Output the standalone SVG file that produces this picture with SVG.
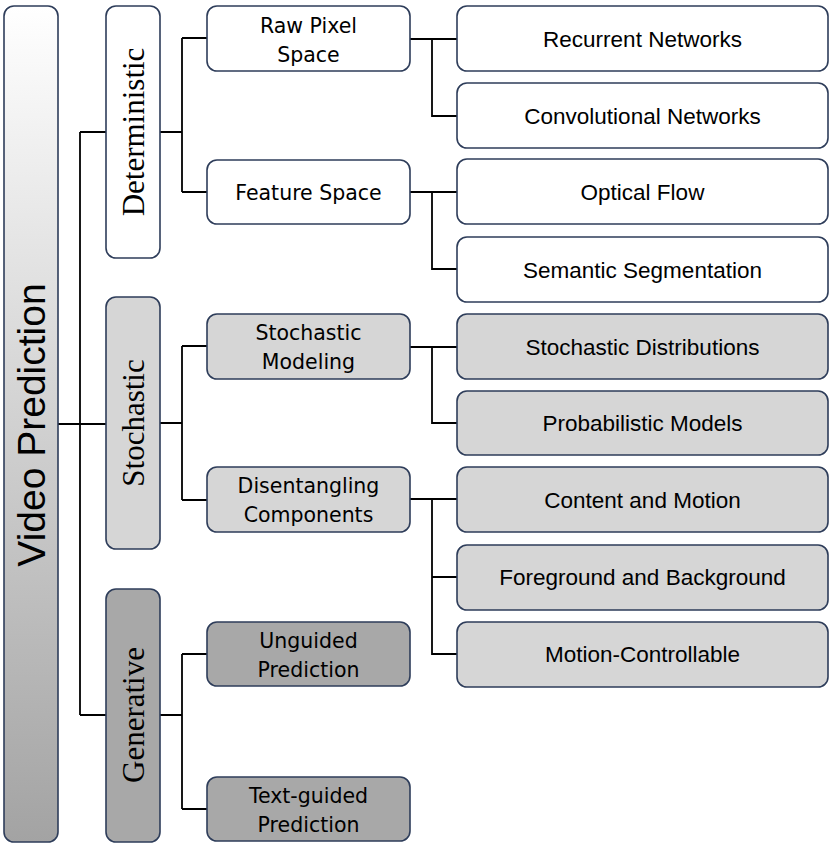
<svg xmlns="http://www.w3.org/2000/svg" width="830" height="848" viewBox="0 0 830 848">
<defs>
<linearGradient id="rootGrad" x1="0" y1="0" x2="0" y2="1">
<stop offset="0" stop-color="#ffffff"/>
<stop offset="1" stop-color="#a3a3a3"/>
</linearGradient>
<style>
.box{stroke:#2e3d5a;stroke-width:1.6}
.w{fill:#ffffff}
.g1{fill:#d6d6d6}
.g2{fill:#a8a8a8}
.root{font-family:"Liberation Sans",Arial,sans-serif;font-size:39px;fill:#000}
.l1{font-family:"Liberation Serif","Times New Roman",serif;font-size:31px;fill:#000}
.l2{font-family:"DejaVu Sans","Noto Sans",sans-serif;font-size:20.5px;fill:#000}
.l3{font-family:"Liberation Sans",Arial,sans-serif;font-size:22.5px;fill:#000}
.conn{fill:none;stroke:#000;stroke-width:1.8}
</style>
</defs>
<rect width="830" height="848" fill="#ffffff"/>
<g id="connectors">
<path class="conn" d="M58,424 H80 M80,132 V715 M80,132 H106 M80,424 H106 M80,715 H106"/>
<path class="conn" d="M160,132 H182 M182,38 V192 M182,38 H207 M182,192 H207"/>
<path class="conn" d="M160,423 H182 M182,346 V500 M182,346 H207 M182,500 H207"/>
<path class="conn" d="M160,715 H182 M182,654 V809 M182,654 H207 M182,809 H207"/>
<path class="conn" d="M410,39 H457 M432,39 V116 H457"/>
<path class="conn" d="M410,192 H457 M432,192 V269 H457"/>
<path class="conn" d="M410,347 H457 M432,347 V423 H457"/>
<path class="conn" d="M410,499 H457 M432,499 V654 H457 M432,577 H457"/>
</g>
<g id="video-prediction">
<rect class="box" x="4" y="6" width="54" height="836" rx="10" fill="url(#rootGrad)"/>
<text class="root" transform="translate(45,425) rotate(-90)" text-anchor="middle">Video Prediction</text>
</g>
<g id="deterministic">
<rect class="box w" x="106" y="6" width="54" height="252" rx="10"/>
<text class="l1" transform="translate(144,132) rotate(-90)" text-anchor="middle">Deterministic</text>
</g>
<g id="stochastic">
<rect class="box g1" x="106" y="297" width="54" height="252" rx="10"/>
<text class="l1" transform="translate(144,423) rotate(-90)" text-anchor="middle">Stochastic</text>
</g>
<g id="generative">
<rect class="box g2" x="106" y="589" width="54" height="253" rx="10"/>
<text class="l1" transform="translate(144,715) rotate(-90)" text-anchor="middle">Generative</text>
</g>
<g id="raw-pixel-space">
<rect class="box w" x="207" y="6" width="203" height="65" rx="10"/>
<text class="l2" x="308.5" y="33" text-anchor="middle">Raw Pixel</text>
<text class="l2" x="308.5" y="62" text-anchor="middle">Space</text>
</g>
<g id="feature-space">
<rect class="box w" x="207" y="160" width="203" height="64" rx="10"/>
<text class="l2" x="308.5" y="200" text-anchor="middle">Feature Space</text>
</g>
<g id="stochastic-modeling">
<rect class="box g1" x="207" y="314" width="203" height="65" rx="10"/>
<text class="l2" x="308.5" y="340" text-anchor="middle">Stochastic</text>
<text class="l2" x="308.5" y="369" text-anchor="middle">Modeling</text>
</g>
<g id="disentangling-components">
<rect class="box g1" x="207" y="467" width="203" height="65" rx="10"/>
<text class="l2" x="308.5" y="493" text-anchor="middle">Disentangling</text>
<text class="l2" x="308.5" y="522" text-anchor="middle">Components</text>
</g>
<g id="unguided-prediction">
<rect class="box g2" x="207" y="622" width="203" height="64" rx="10"/>
<text class="l2" x="308.5" y="648" text-anchor="middle">Unguided</text>
<text class="l2" x="308.5" y="677" text-anchor="middle">Prediction</text>
</g>
<g id="text-guided-prediction">
<rect class="box g2" x="207" y="777" width="203" height="64" rx="10"/>
<text class="l2" x="308.5" y="803" text-anchor="middle">Text-guided</text>
<text class="l2" x="308.5" y="832" text-anchor="middle">Prediction</text>
</g>
<g id="recurrent-networks">
<rect class="box w" x="457" y="6" width="371" height="65" rx="10"/>
<text class="l3" x="642.5" y="47" text-anchor="middle">Recurrent Networks</text>
</g>
<g id="convolutional-networks">
<rect class="box w" x="457" y="83" width="371" height="65" rx="10"/>
<text class="l3" x="642.5" y="124" text-anchor="middle">Convolutional Networks</text>
</g>
<g id="optical-flow">
<rect class="box w" x="457" y="159" width="371" height="65" rx="10"/>
<text class="l3" x="642.5" y="200" text-anchor="middle">Optical Flow</text>
</g>
<g id="semantic-segmentation">
<rect class="box w" x="457" y="237" width="371" height="65" rx="10"/>
<text class="l3" x="642.5" y="278" text-anchor="middle">Semantic Segmentation</text>
</g>
<g id="stochastic-distributions">
<rect class="box g1" x="457" y="314" width="371" height="65" rx="10"/>
<text class="l3" x="642.5" y="355" text-anchor="middle">Stochastic Distributions</text>
</g>
<g id="probabilistic-models">
<rect class="box g1" x="457" y="391" width="371" height="64" rx="10"/>
<text class="l3" x="642.5" y="431" text-anchor="middle">Probabilistic Models</text>
</g>
<g id="content-and-motion">
<rect class="box g1" x="457" y="467" width="371" height="65" rx="10"/>
<text class="l3" x="642.5" y="508" text-anchor="middle">Content and Motion</text>
</g>
<g id="foreground-and-background">
<rect class="box g1" x="457" y="545" width="371" height="65" rx="10"/>
<text class="l3" x="642.5" y="585" text-anchor="middle">Foreground and Background</text>
</g>
<g id="motion-controllable">
<rect class="box g1" x="457" y="622" width="371" height="65" rx="10"/>
<text class="l3" x="642.5" y="662" text-anchor="middle">Motion-Controllable</text>
</g>
</svg>
